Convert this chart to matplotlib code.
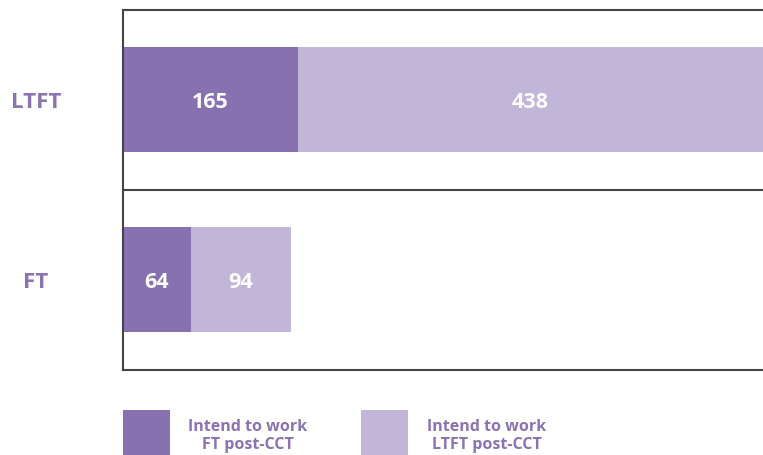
import matplotlib
matplotlib.use("Agg")
import matplotlib.pyplot as plt
from matplotlib.patches import Rectangle

# data
categories = ["FT", "LTFT"]
ft_post = [64, 165]
ltft_post = [94, 438]
legend_labels = ["Intend to work\nFT post-CCT", "Intend to work\nLTFT post-CCT"]

dark = "#8871b1"
light = "#c1b5d8"
label_col = "#8a72b3"

plt.rcParams['font.family'] = ['Open Sans', 'DejaVu Sans']

fig = plt.figure(figsize=(7.63, 4.56), dpi=100)
ax = fig.add_axes([123 / 763, 85.5 / 456, 640 / 763, 360 / 456])

ypos = range(len(categories))
h = 0.58
ax.barh(ypos, ft_post, height=h, color=dark)
ax.barh(ypos, ltft_post, left=ft_post, height=h, color=light)

for i in ypos:
    ax.text(ft_post[i] / 2, i - 0.01, str(ft_post[i]), ha='center', va='center',
            color='white', fontsize=15.5, fontweight='bold')
    ax.text(ft_post[i] + ltft_post[i] / 2, i - 0.01, str(ltft_post[i]), ha='center',
            va='center', color='white', fontsize=15.5, fontweight='bold')

ax.set_xlim(0, ft_post[1] + ltft_post[1])
ax.set_ylim(-0.5, 1.5)
ax.axhline(0.5, color='#444444', lw=1.5)

ax.set_xticks([])
ax.set_yticks(list(ypos))
ax.set_yticklabels(categories, color=label_col, fontsize=16, fontweight='bold')
ax.tick_params(axis='y', length=0, pad=0)
for lbl in ax.get_yticklabels():
    lbl.set_horizontalalignment('center')
    lbl.set_x(-87 / 640)
ax.spines['right'].set_visible(False)
for s in ['left', 'top', 'bottom']:
    ax.spines[s].set_color('#444444')
    ax.spines[s].set_linewidth(1.5)

# legend
sq_x = [123, 361]
txt_x = [248, 487]
cols = [dark, light]
for i in range(2):
    fig.add_artist(Rectangle((sq_x[i] / 763, 0), 47 / 763, 45 / 456,
                             transform=fig.transFigure, color=cols[i], lw=0))
    fig.text(txt_x[i] / 763, 1 - 436 / 456, legend_labels[i], ha='center',
             va='center', color=label_col, fontsize=11.5, fontweight='bold',
             linespacing=1.1)

fig.savefig("out.png", dpi=100)
